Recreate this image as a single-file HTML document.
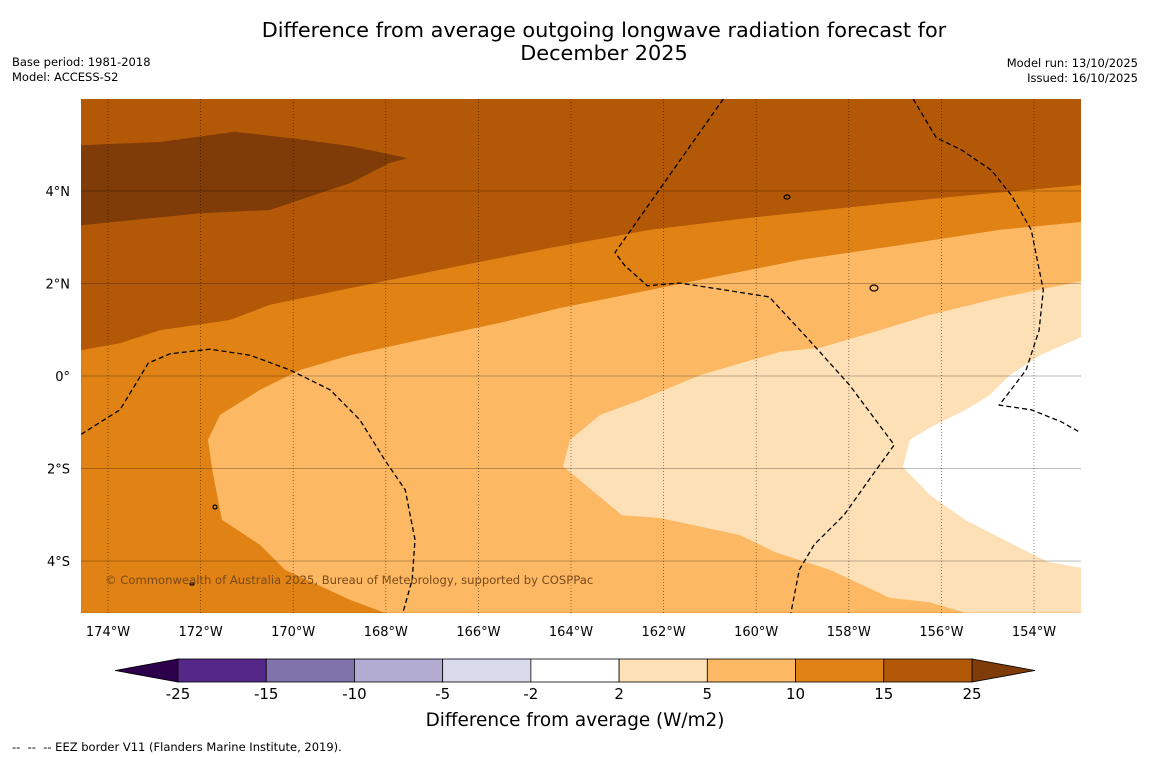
<!DOCTYPE html>
<html><head><meta charset="utf-8">
<style>
body{margin:0;background:#fff;font-family:"Liberation Sans","DejaVu Sans",sans-serif;}
#wrap{position:relative;width:1150px;height:758px;overflow:hidden;background:#fff;}
.t{position:absolute;white-space:nowrap;color:#000;}
</style></head><body>
<div id="wrap">
<div class="t" style="left:0;width:1208px;top:19px;text-align:center;font-size:20.8px;line-height:23px;font-family:'DejaVu Sans',sans-serif;">Difference from average outgoing longwave radiation forecast for<br>December 2025</div>
<div class="t" style="left:12px;top:55px;font-size:11.5px;line-height:15px;font-family:'DejaVu Sans',sans-serif;">Base period: 1981-2018<br>Model: ACCESS-S2</div>
<div class="t" style="right:12px;top:56px;font-size:11.5px;line-height:15px;text-align:right;font-family:'DejaVu Sans',sans-serif;">Model run: 13/10/2025<br>Issued: 16/10/2025</div>
<svg id="svg" width="1150" height="758" style="position:absolute;left:0;top:0"></svg>
<div class="t" style="left:12px;top:740px;font-size:11.5px;font-family:'DejaVu Sans',sans-serif;">--&nbsp; --&nbsp; -- EEZ border V11 (Flanders Marine Institute, 2019).</div>
</div>
<script>
const lonTicks=[-174,-172,-170,-168,-166,-164,-162,-160,-158,-156,-154];
const latTicks=[4,2,0,-2,-4];
const levelLabels=["-25","-15","-10","-5","-2","2","5","10","15","25"];
const levelColors=["#542788","#8073ac","#b2abd2","#d8daeb","#ffffff","#fee0b6","#fdb863","#e08214","#b35806"];
const darkPoly=[[-174.58,4.99],[-172.88,5.06],[-171.26,5.28],[-169.85,5.12],[-168.77,4.97],[-167.52,4.71],[-167.91,4.61],[-168.77,4.17],[-169.85,3.81],[-170.5,3.59],[-172.01,3.52],[-174.58,3.26]];
const band10Poly=[[-174.58,0.56],[-173.74,0.71],[-172.88,0.99],[-171.37,1.21],[-170.5,1.54],[-168.77,1.9],[-166.61,2.34],[-164.45,2.77],[-162.29,3.16],[-160.13,3.42],[-157.97,3.65],[-155.81,3.87],[-152.98,4.13],[-152.98,-5.12],[-174.58,-5.12]];
const band5Poly=[[-152.98,3.33],[-154.73,3.16],[-156.89,2.83],[-159.05,2.51],[-161.21,2.08],[-162.94,1.73],[-164.24,1.47],[-165.53,1.15],[-167.26,0.78],[-168.77,0.45],[-169.85,0.13],[-170.72,-0.3],[-171.58,-0.84],[-171.84,-1.38],[-171.75,-2.03],[-171.54,-3.11],[-170.72,-3.65],[-170.18,-4.19],[-168.77,-4.84],[-168.02,-5.12],[-152.98,-5.12]];
const band2Poly=[[-152.98,2.05],[-154.73,1.69],[-156.25,1.32],[-157.33,0.99],[-158.62,0.61],[-159.49,0.52],[-161.21,0.02],[-162.51,-0.52],[-163.37,-0.84],[-164.02,-1.38],[-164.17,-1.95],[-162.9,-3.01],[-162.08,-3.07],[-160.35,-3.44],[-159.59,-3.81],[-158.41,-4.19],[-157.11,-4.8],[-156.25,-4.89],[-155.49,-5.12],[-152.98,-5.12]];
const whitePoly=[[-152.98,0.84],[-153.87,0.45],[-154.52,0.02],[-154.95,-0.41],[-155.49,-0.74],[-156.25,-1.12],[-156.68,-1.38],[-156.83,-1.97],[-156.25,-2.57],[-155.49,-3.11],[-154.73,-3.5],[-153.7,-4.02],[-152.98,-4.15]];
const eez1=[[-174.58,-1.26],[-173.74,-0.73],[-173.13,0.28],[-172.66,0.48],[-171.8,0.58],[-170.93,0.45],[-170.07,0.13],[-169.2,-0.3],[-168.56,-0.95],[-168.02,-1.82],[-167.58,-2.46],[-167.37,-3.54],[-167.43,-4.4],[-167.63,-5.12]];
const eez2=[[-160.71,5.99],[-163.05,2.67],[-162.84,2.39],[-162.35,1.95],[-161.66,2.01],[-160.8,1.88],[-159.72,1.71],[-158.86,0.78],[-157.99,-0.19],[-157.02,-1.49],[-157.56,-2.24],[-158.1,-3.0],[-158.75,-3.65],[-159.07,-4.19],[-159.25,-5.12]];
const eez3=[[-156.61,5.99],[-156.11,5.15],[-155.57,4.89],[-154.92,4.45],[-154.49,3.91],[-154.06,3.16],[-153.8,1.86],[-153.89,0.99],[-154.17,0.13],[-154.75,-0.63],[-154.06,-0.73],[-153.41,-0.99],[-153.02,-1.21]];
const X0=81,X1=1081,Y0=99,Y1=613;
const xS=lon=>108+(lon+174)*46.3;
const yS=lat=>376-lat*46.25;
const svg=document.getElementById('svg');
const NS='http://www.w3.org/2000/svg';
function mk(tag,attrs){const e=document.createElementNS(NS,tag);for(const k in attrs)e.setAttribute(k,attrs[k]);svg.appendChild(e);return e;}
const pts=p=>p.map(q=>xS(q[0]).toFixed(1)+','+yS(q[1]).toFixed(1)).join(' ');
const clip=document.createElementNS(NS,'clipPath');clip.setAttribute('id','mc');
const cr=document.createElementNS(NS,'rect');cr.setAttribute('x',X0);cr.setAttribute('y',Y0);cr.setAttribute('width',X1-X0);cr.setAttribute('height',Y1-Y0);clip.appendChild(cr);svg.appendChild(clip);
let bg=mk('rect',{x:X0,y:Y0,width:X1-X0,height:Y1-Y0,fill:'#b35806'});


const polys=[[darkPoly,'#7f3b08','contour-above-25'],[band10Poly,'#e08214','contour-10-15'],[band5Poly,'#fdb863','contour-5-10'],[band2Poly,'#fee0b6','contour-2-5'],[whitePoly,'#ffffff','contour-neutral']];
polys.forEach(p=>{const e=mk('polygon',{points:pts(p[0]),fill:p[1],'clip-path':'url(#mc)'});

});
[eez1,eez2,eez3].forEach((l,i)=>{const e=mk('polyline',{points:pts(l),fill:'none',stroke:'#000','stroke-width':1.3,'stroke-dasharray':'5,3','clip-path':'url(#mc)'});

});
[[787,197,3,2],[874,288,4,3],[215,507,2,2],[192,584,2,1]].forEach((c,i)=>{const e=mk('ellipse',{cx:c[0],cy:c[1],rx:c[2],ry:c[3],fill:'none',stroke:'#000','stroke-width':1.2});

});
lonTicks.forEach(v=>{const x=xS(v);
const g=mk('line',{x1:x,x2:x,y1:Y0,y2:Y1,stroke:'rgba(0,0,0,0.55)','stroke-width':0.8,'stroke-dasharray':'1,2'});


const t=mk('text',{x:x,y:636,'text-anchor':'middle','font-size':13,'font-family':'DejaVu Sans, sans-serif'});t.textContent=Math.abs(v)+'°W';

});
latTicks.forEach(v=>{const y=yS(v);
const g=mk('line',{x1:X0,x2:X1,y1:y,y2:y,stroke:'rgba(0,0,0,0.35)','stroke-width':0.8});


const t=mk('text',{x:70,y:y+5,'text-anchor':'end','font-size':13,'font-family':'DejaVu Sans, sans-serif'});t.textContent=v===0?'0°':Math.abs(v)+'°'+(v>0?'N':'S');

});
const cp=mk('text',{x:105,y:584,'font-size':11.6,fill:'#7a4a1a','font-family':'DejaVu Sans, sans-serif'});cp.textContent='© Commonwealth of Australia 2025, Bureau of Meteorology, supported by COSPPac';


const cbX0=178,cbX1=972,cbY=659,cbH=23,bw=(cbX1-cbX0)/levelColors.length;
let tl=mk('polygon',{points:`115,${cbY+cbH/2} ${cbX0},${cbY} ${cbX0},${cbY+cbH}`,fill:'#2d004b',stroke:'#000','stroke-width':0.8});


let tr=mk('polygon',{points:`1035,${cbY+cbH/2} ${cbX1},${cbY} ${cbX1},${cbY+cbH}`,fill:'#7f3b08',stroke:'#000','stroke-width':0.8});


levelColors.forEach((c,i)=>{const r=mk('rect',{x:cbX0+i*bw,y:cbY,width:bw,height:cbH,fill:c,stroke:'#000','stroke-width':0.8});

});
levelLabels.forEach((l,i)=>{const t=mk('text',{x:cbX0+i*bw,y:699,'text-anchor':'middle','font-size':15,'font-family':'DejaVu Sans, sans-serif'});t.textContent=l;

});
const ct=mk('text',{x:575,y:726,'text-anchor':'middle','font-size':18.4,'font-family':'DejaVu Sans, sans-serif'});ct.textContent='Difference from average (W/m2)';


</script>
</body></html>
